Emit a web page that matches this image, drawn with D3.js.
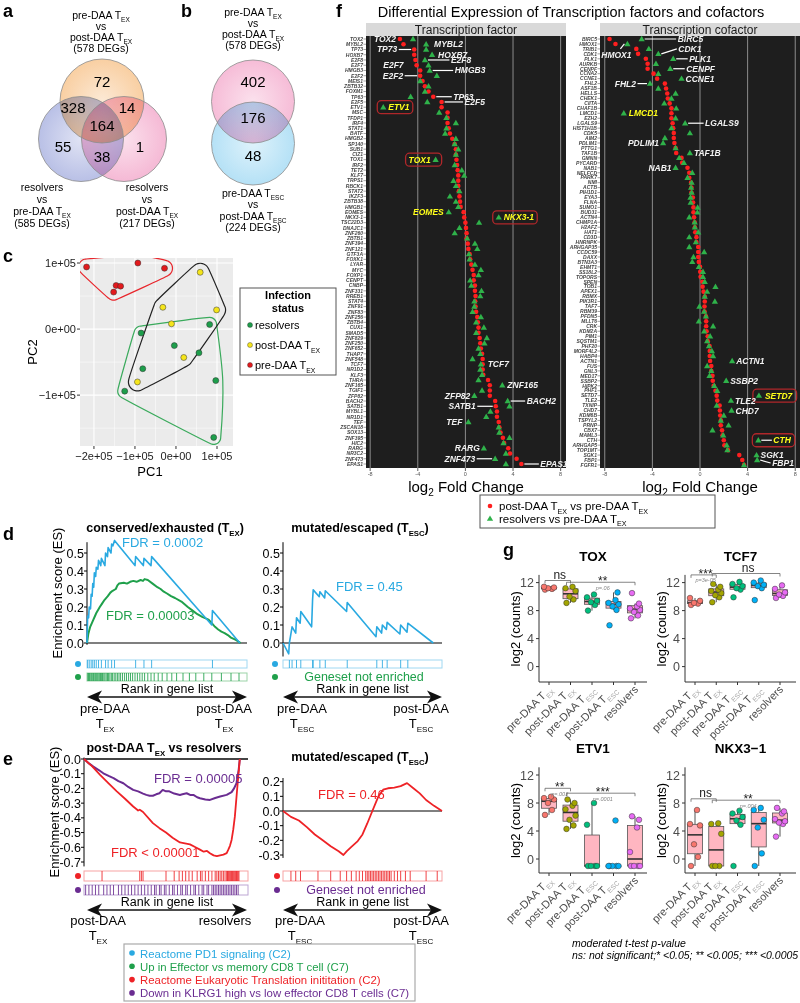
<!DOCTYPE html>
<html><head><meta charset="utf-8">
<script src="https://cdn.jsdelivr.net/npm/d3@7/dist/d3.min.js"></script>
<style>html,body{margin:0;padding:0;background:#fff;}svg{display:block;font-family:Arial,"Liberation Sans",Helvetica,sans-serif;}</style>
</head><body>
<svg id="fig" width="800" height="1003" viewBox="0 0 800 1003"></svg>
<script>
// ================= DATA =================
const vennATop = ["pre-DAA T_{EX}", "vs", "post-DAA T_{EX}", "(578 DEGs)"];
const vennALeft = ["resolvers", "vs", "pre-DAA T_{EX}", "(585 DEGs)"];
const vennARight = ["resolvers", "vs", "post-DAA T_{EX}", "(217 DEGs)"];
const vennACounts = [72, 328, 14, 164, 55, 1, 38];
const vennBTop = ["pre-DAA T_{EX}", "vs", "post-DAA T_{EX}", "(578 DEGs)"];
const vennBBottom = ["pre-DAA T_{ESC}", "vs", "post-DAA T_{ESC}", "(224 DEGs)"];
const vennBCounts = [402, 176, 48];

const pcaStatus = ["resolvers", "post-DAA T_{EX}", "pre-DAA T_{EX}"];
const pcaResX = [-85000, 82000, -4000, 56000, -81000, -125000, 97000, 92000];
const pcaResY = [-6000, 7000, -25000, -36000, -60000, -94000, -78000, -164000];
const pcaPostX = [59000, -32000, 99000, -11000, 19000, -94000];
const pcaPostY = [86000, 33000, 29000, 8000, -43000, -80000];
const pcaPreX = [-218000, -93000, -28000, -152000, -146000, -135000];
const pcaPreY = [94000, 100000, 92000, 56000, 66000, 65000];
const pcaXTicks = [-200000, -100000, 0, 100000];
const pcaXTickLabels = ["\u22122e+05", "\u22121e+05", "0e+00", "1e+05"];
const pcaYTicks = [-100000, 0, 100000];
const pcaYTickLabels = ["\u22121e+05", "0e+00", "1e+05"];

const pd1EsD = [[0,0],[0.004,0.15],[0.01,0.14],[0.014,0.2],[0.022,0.19],[0.026,0.27],[0.032,0.26],[0.036,0.33],[0.042,0.31],[0.046,0.39],[0.054,0.37],[0.058,0.42],[0.068,0.41],[0.072,0.46],[0.086,0.43],[0.09,0.47],[0.112,0.43],[0.116,0.5],[0.128,0.48],[0.132,0.53],[0.15,0.5],[0.154,0.55],[0.162,0.54],[0.172,0.57],[0.30,0.43],[0.304,0.48],[0.352,0.43],[0.356,0.47],[0.40,0.43],[0.404,0.48],[0.78,0.1],[0.784,0.18],[0.955,0]];
const effEsD = [[0,0],[0.008,0.05],[0.02,0.09],[0.04,0.13],[0.05,0.15],[0.06,0.17],[0.08,0.2],[0.095,0.22],[0.11,0.24],[0.13,0.26],[0.146,0.28],[0.16,0.29],[0.18,0.3],[0.19,0.32],[0.2,0.33],[0.23,0.335],[0.25,0.33],[0.27,0.34],[0.29,0.345],[0.31,0.34],[0.335,0.35],[0.35,0.345],[0.36,0.355],[0.38,0.35],[0.41,0.33],[0.44,0.31],[0.46,0.3],[0.48,0.285],[0.5,0.275],[0.525,0.26],[0.55,0.25],[0.59,0.23],[0.61,0.215],[0.63,0.2],[0.66,0.18],[0.69,0.16],[0.72,0.145],[0.76,0.13],[0.78,0.11],[0.8,0.09],[0.82,0.075],[0.84,0.063],[0.86,0.055],[0.88,0.044],[0.9,0.03],[0.93,0.017],[0.96,0]];
const pd1EsD2 = [[0,0],[0.036,-0.06],[0.04,0],[0.057,0.09],[0.08,0.055],[0.085,0.14],[0.108,0.11],[0.112,0.175],[0.18,0.09],[0.186,0.24],[0.19,0.295],[0.228,0.257],[0.232,0.285],[0.262,0.25],[0.266,0.29],[0.40,0.175],[0.404,0.225],[0.585,0.035],[0.59,0.09],[0.62,0.055],[0.625,0.1],[0.65,0.075],[0.655,0.115],[0.735,0.05],[0.74,0.1],[0.78,0.06],[0.785,0.11],[0.945,0]];
const translEsE = [[0,0],[0.05,-0.05],[0.098,-0.108],[0.15,-0.165],[0.2,-0.22],[0.25,-0.27],[0.3,-0.323],[0.33,-0.35],[0.34,-0.345],[0.36,-0.36],[0.42,-0.436],[0.46,-0.47],[0.5,-0.5],[0.54,-0.535],[0.585,-0.567],[0.6,-0.57],[0.646,-0.58],[0.68,-0.6],[0.707,-0.616],[0.73,-0.63],[0.75,-0.625],[0.768,-0.64],[0.79,-0.655],[0.81,-0.66],[0.83,-0.655],[0.85,-0.65],[0.87,-0.64],[0.88,-0.616],[0.89,-0.59],[0.9,-0.55],[0.91,-0.48],[0.92,-0.39],[0.935,-0.19],[0.95,0]];
const klrgEsE = [[0,0],[0.03,-0.03],[0.057,-0.052],[0.09,-0.075],[0.118,-0.097],[0.15,-0.115],[0.18,-0.13],[0.21,-0.15],[0.24,-0.165],[0.27,-0.19],[0.3,-0.21],[0.33,-0.22],[0.36,-0.235],[0.38,-0.244],[0.4,-0.25],[0.42,-0.25],[0.44,-0.24],[0.46,-0.233],[0.48,-0.21],[0.5,-0.22],[0.52,-0.22],[0.55,-0.235],[0.585,-0.244],[0.6,-0.24],[0.626,-0.233],[0.65,-0.245],[0.667,-0.244],[0.69,-0.26],[0.707,-0.267],[0.74,-0.275],[0.768,-0.278],[0.8,-0.265],[0.83,-0.255],[0.87,-0.244],[0.9,-0.225],[0.915,-0.2],[0.93,-0.165],[0.943,-0.075],[0.95,0]];
const translEsE2 = [[0,0],[0.05,-0.04],[0.1,-0.065],[0.15,-0.11],[0.2,-0.16],[0.25,-0.2],[0.3,-0.24],[0.35,-0.275],[0.38,-0.3],[0.4,-0.275],[0.43,-0.245],[0.47,-0.205],[0.5,-0.16],[0.53,-0.085],[0.56,-0.005],[0.6,0.1],[0.63,0.145],[0.66,0.155],[0.7,0.16],[0.74,0.17],[0.78,0.19],[0.82,0.155],[0.86,0.12],[0.9,0.075],[0.95,0.035],[1.0,0]];
const pd1HitsD = [0.004,0.014,0.026,0.036,0.046,0.058,0.072,0.09,0.116,0.132,0.154,0.172,0.304,0.356,0.404,0.784];
const effHitsD = [0.005,0.01,0.015,0.02,0.027,0.033,0.04,0.045,0.052,0.058,0.064,0.07,0.077,0.084,0.09,0.097,0.105,0.112,0.12,0.128,0.135,0.143,0.152,0.16,0.17,0.18,0.19,0.2,0.21,0.222,0.235,0.247,0.26,0.272,0.285,0.3,0.315,0.33,0.345,0.36,0.38,0.4,0.42,0.445,0.47,0.5,0.53,0.56,0.6,0.64,0.68,0.73,0.78,0.84,0.9,0.95];
const pd1HitsD2 = [0.04,0.057,0.085,0.112,0.186,0.19,0.232,0.266,0.404,0.59,0.625,0.655,0.74,0.785];
const translHitsE = [0.11,0.34,0.35,0.36,0.5,0.55,0.58,0.6,0.62,0.64,0.66,0.69,0.71,0.72,0.74,0.76,0.78,0.8,0.81,0.82,0.83,0.84,0.85,0.86,0.87,0.875,0.88,0.885,0.89,0.895,0.9,0.905,0.91,0.915,0.92,0.925,0.93,0.935,0.94,0.945];
const klrgHitsE = [0.01,0.03,0.05,0.07,0.09,0.12,0.14,0.16,0.18,0.21,0.23,0.25,0.27,0.29,0.31,0.33,0.35,0.37,0.39,0.41,0.43,0.44,0.46,0.47,0.49,0.5,0.52,0.54,0.55,0.57,0.59,0.6,0.62,0.63,0.65,0.67,0.68,0.7,0.72,0.73,0.75,0.76,0.78,0.79,0.8,0.81,0.82,0.83,0.84,0.85,0.86,0.87,0.88,0.89,0.9,0.91,0.92,0.93,0.94];
const translHitsE2 = [0.05,0.08,0.11,0.22,0.3,0.36,0.4,0.43,0.46,0.48,0.5,0.52,0.53,0.54,0.55,0.56,0.57,0.58,0.59,0.6,0.61,0.62,0.63,0.64,0.65,0.66,0.67,0.68,0.7,0.72,0.74,0.77,0.8,0.9,0.97];
const esTicksD = [0, 0.1, 0.2, 0.3, 0.4, 0.5];
const esTicksE = [0, -0.1, -0.2, -0.3, -0.4, -0.5, -0.6, -0.7];
const esTicksE2 = [0.2, 0.1, 0, -0.1, -0.2, -0.3];
const genesetNames = ["Reactome PD1 signaling (C2)", "Up in Effector vs memory CD8 T cell (C7)", "Reactome Eukaryotic Translation inititation (C2)", "Down in KLRG1 high vs low effector CD8 T cells (C7)"];

const tfGenes = ["TOX2","MYBL2","TP73","HOXB7","E2F8","E2F7","HMGB3","E2F2","MEIS1","ZBTB32","FOXM1","TP63","E2F5","ETV1","MSC","TFDP1","IRF4","STAT1","BATF","HMGB2","SP140","SUB1","CIZ1","TOX1","IRF2","TET2","KLF7","TRPS1","RBCK1","STAT2","IKZF3","ZBTB38","HMGB1","EOMES","NKX3-1","TSC22D3","DNAJC1","ZNF260","ZBTB1","ZNF394","ZNF121","GTF3A","FOXK1","LYAR","MYC","FOXP1","CENPT","CNBP","ZNF331","RREB1","STAT4","ZNF91","ZNF83","ZNF256","ZBTB4","CUX1","SMAD5","ZNF829","ZNF250","ZNF652","THAP7","ZNF548","TCF7","NR1D2","KLF3","THRA","ZNF165","TGIF1","ZFP82","BACH2","SATB1","MYBL1","NR1D1","TEF","ZSCAN18","SOX13","ZNF395","HIC2","RARG","NR3C2","ZNF473","EPAS1"];
const tfPost = [-5.5,-5.2,-4.3,-4.3,-4.2,-4.1,-3.8,-3.8,-3.6,-3.4,-3.1,-2.7,-2.0,-2.0,-1.5,-1.5,-1.5,-1.4,-1.3,-1.1,-0.9,-0.8,-0.8,-0.75,-0.7,-0.65,-0.6,-0.6,-0.6,-0.55,-0.5,-0.45,-0.4,-0.15,-0.1,0,0.05,0.1,0.1,0.2,0.25,0.35,0.4,0.5,0.6,0.7,0.7,0.8,0.8,0.85,0.82,0.85,0.9,1.0,1.05,1.1,1.1,1.2,1.25,1.3,1.4,1.45,1.45,1.45,1.5,1.9,2.05,2.05,2.05,2.5,2.55,2.65,2.65,2.8,2.85,2.95,3.15,3.25,3.6,3.75,4.3,4.7];
const tfRes = [-4.4,-3.3,-3.3,-2.8,-3.4,-3.1,-3.0,-2.4,-3.8,-3.1,-3.4,-4.6,-3.2,-6.9,-2.2,-1.6,-0.8,-1.6,-1.7,-0.8,-0.9,-0.6,-0.8,-2.5,-0.9,-0.3,-0.1,-1.0,-0.8,-0.5,-1.3,-0.8,-0.6,-1.4,2.8,1.15,-0.5,-0.9,0.15,0.8,1.0,0.3,0.35,0.8,1.3,1.1,0.4,0.5,1.35,1.25,0.75,0.75,0.6,1.3,0.9,1.55,0.9,1.8,1.6,1.1,1.25,0.6,1.3,1.25,1.4,1.1,3.1,1.4,0.75,3.55,3.7,2.1,1.75,0.25,2.8,2.85,3.7,3.2,1.55,3.4,2.5,3.4];
const cofGenes = ["BIRC5","HMOX1","TRIB1","CDK1","PLK1","AURKB","CENPF","CCNA2","CCNE1","FHL2","ASF1B","HELLS","CHEK1","CIITA","CHAF1B","LMCD1","EZH2","LGALS9","HIST1H1B","CDK5","AIM2","PDLIM1","PTTG1","TAF1B","GMNN","PYCARD","NAB1","NELFCD","PARK7","NMI","ACTB","PIH1D1","EYA3","FLNA","SUMO1","BUD31","ACTN4","CHMP1A","H2AFZ","HAT1","CD3D","HNRNPK","ARHGAP35","CCDC59","DAXX","BTN3A3","EHMT1","SS18L2","TOPORS","SPEN","TOB1","APEX1","RBMX","PIK3R1","TAF7","RBM39","PFDN5","MLLT6","CRK","KDM2A","PIM1","SQSTM1","PHF20","MORF4L2","HABP4","ACTN1","FUS","GNL3","MED17","SSBP2","HIPK2","PHF1","SETD7","TLE2","TXNIP","CHD7","KDM6B","TSPYL2","PRNP","CBX7","MAML3","CTH","ARHGAP5","TOP1MT","SGK1","FBP1","FGFR1"];
const cofPost = [-7.6,-7.1,-5.35,-5.2,-4.55,-4.4,-4.4,-3.9,-3.6,-2.95,-2.85,-2.75,-2.7,-2.55,-2.4,-2.4,-2.4,-2.3,-2.25,-2.2,-2.2,-2.15,-2.05,-2.0,-1.55,-1.5,-1.05,-0.9,-0.9,-0.75,-0.72,-0.72,-0.6,-0.58,-0.55,-0.55,-0.5,-0.45,-0.43,-0.4,-0.3,-0.3,-0.15,-0.15,-0.15,-0.1,0,0.02,0.05,0.2,0.22,0.3,0.4,0.4,0.38,0.38,0.5,0.52,0.52,0.55,0.65,0.65,0.8,0.82,0.82,0.85,0.95,0.95,1.05,1.07,1.15,1.3,1.4,1.45,1.65,1.67,1.7,1.75,1.75,1.85,1.9,2.0,2.05,2.35,3.3,3.55,3.7];
const cofRes = [-4.9,-6.1,-4.3,-3.5,-2.25,-3.7,-2.5,-3.5,-1.55,-4.2,-3.5,-2.05,-2.4,-3.0,-2.0,-6.4,-2.05,-1.25,-2.4,-0.85,-2.95,-3.1,-2.05,-0.85,-1.75,-1.35,-2.05,-0.65,-1.05,-0.7,-0.75,-0.7,-0.8,-0.78,-0.2,-0.22,-0.9,-0.45,-0.43,-0.15,-0.9,-0.35,-0.9,0.35,-0.55,-0.65,-0.1,0.25,0.25,0.4,1.3,0.6,0.4,1.25,-0.05,0.35,0.5,-0.1,1.1,0.35,0.85,0.6,0.75,1.0,1.1,2.7,0.6,0.95,0.8,2.2,1.2,1.45,4.95,2.6,1.4,2.65,2.0,1.75,2.4,1.05,1.95,4.9,2.25,2.3,4.75,4.8,3.7];
const fcTicks = [-8, -4, 0, 4, 8];
const fcSeries = ["post-DAA T_{EX} vs pre-DAA T_{EX}", "resolvers vs pre-DAA T_{EX}"];

const gCats = ["pre-DAA T_{EX}", "post-DAA T_{EX}", "pre-DAA T_{ESC}", "post-DAA T_{ESC}", "resolvers"];
const toxCounts = [[11.0,11.1,11.2,11.3,11.4],[9.1,9.6,10.0,10.8,11.2,11.4],[8.0,8.8,9.2,9.4,9.9,10.3],[5.9,8.1,8.6,8.9,9.1,9.5,10.6],[6.9,7.3,7.8,8.1,8.3,8.6,9.0,10.5]];
const tcf7Counts = [[8.8,9.0,9.1,9.4,9.8],[9.2,9.9,10.2,10.5,10.8,11.0,11.4,11.8],[9.9,11.0,11.2,11.5,11.8,12.1],[9.5,11.2,11.5,11.7,12.0,12.3],[9.8,10.1,10.3,10.6,11.1,11.6]];
const etv1Counts = [[6.3,7.0,8.0,8.5,8.7,8.9],[4.3,4.8,5.6,6.2,7.1,7.6,8.0,8.5],[-1,-1,-1,-1,4.9,8.0],[-1,-1,-1,-1,-1,5.5],[-1,-1,-1,-1,1.0,4.5,5.6,6.1]];
const nkx31Counts = [[-1,0.3,2.1,4.8,5.0,7.0],[-1,-1,-1,3.6,5.0,5.1],[-1,4.9,5.5,6.0,6.5,6.9],[-1,0.8,4.5,5.6,7.0,7.3],[3.2,5.0,5.2,5.4,5.7,6.5,6.8,7.3]];
const countTicks = [0, 4, 8, 12];
const toxSig = [{a:0,b:1,y:12.3,lab:"ns"},{a:1,b:4,y:12.05,lab:"**",p:"p=.06"}];
const tcf7Sig = [{a:0,b:1,y:13.1,lab:"***",p:"p=3e-05"},{a:1,b:4,y:13.3,lab:"ns"}];
const etv1Sig = [{a:0,b:1,y:10.1,lab:"**",p:"p=.003"},{a:1,b:4,y:9.4,lab:"***",p:"p=.0001"}];
const nkx31Sig = [{a:0,b:1,y:8.6,lab:"ns"},{a:1,b:4,y:8.4,lab:"**",p:"p=.004"}];

// ================= HELPERS =================
const svg = d3.select("#fig");
const defs = svg.append("defs");
function rich(g, x, y, str, o = {}) {
  const size = o.size || 11;
  const t = g.append("text").attr("x", x).attr("y", y).attr("font-size", size)
    .attr("text-anchor", o.anchor || "start").attr("fill", o.fill || "#000");
  if (o.weight) t.attr("font-weight", o.weight);
  if (o.style) t.attr("font-style", o.style);
  if (o.rotate != null) t.attr("transform", `rotate(${o.rotate},${x},${y})`);
  const parts = str.split(/(_\{[^}]*\})/).filter(s => s.length);
  let down = 0;
  parts.forEach(p => {
    if (p.startsWith("_{")) {
      const s = t.append("tspan").text(p.slice(2, -1)).attr("font-size", size * 0.62).attr("dy", size * 0.32 - down);
      if (o.subFill) s.attr("fill", o.subFill);
      down = size * 0.32;
    } else {
      const s = t.append("tspan").text(p);
      if (down) { s.attr("dy", -down); down = 0; }
    }
  });
  return t;
}
function panelLetter(l, x, y) {
  svg.append("text").attr("x", x).attr("y", y).attr("font-size", 18).attr("font-weight", "bold").text(l);
}
function radial(id, c) {
  const gr = defs.append("radialGradient").attr("id", id);
  gr.append("stop").attr("offset", "0%").attr("stop-color", d3.interpolateRgb(c, "#fff")(0.55));
  gr.append("stop").attr("offset", "100%").attr("stop-color", c);
}

// ================= PANEL a / b =================
panelLetter("a", 3, 17);
panelLetter("b", 181, 17);
{
  const g = svg.append("g");
  radial("gOr", "#f9cfa2"); radial("gBl", "#b9c0e6"); radial("gPk", "#f5b9d5");
  const circles = [{cx:81,cy:139,r:42.5,f:"gBl"},{cx:124,cy:139,r:42.5,f:"gPk"},{cx:102,cy:101,r:42,f:"gOr"}];
  circles.forEach(c => g.append("circle").attr("cx", c.cx).attr("cy", c.cy).attr("r", c.r)
    .attr("fill", `url(#${c.f})`).style("mix-blend-mode", "multiply"));
  circles.forEach(c => g.append("circle").attr("cx", c.cx).attr("cy", c.cy).attr("r", c.r)
    .attr("fill", "none").attr("stroke", "#8c8c8c").attr("stroke-width", 0.8));
  const spots = [[102,87],[73,113],[127,113],[102,131],[63,152],[140,152],[102,162]];
  vennACounts.forEach((v, i) => g.append("text").attr("x", spots[i][0]).attr("y", spots[i][1])
    .attr("text-anchor", "middle").attr("font-size", 15).text(v));
  vennATop.forEach((s, i) => rich(g, 101, 19 + i * 11, s, {anchor: "middle", size: 10.5}));
  vennALeft.forEach((s, i) => rich(g, 42, 191 + i * 12, s, {anchor: "middle", size: 10.5}));
  vennARight.forEach((s, i) => rich(g, 147, 191 + i * 12, s, {anchor: "middle", size: 10.5}));

  const gb = svg.append("g");
  radial("gPk2", "#f6bcd7"); radial("gLb", "#b5e1f6");
  const cb = [{cx:253,cy:101.5,r:41.5,f:"gPk2"},{cx:253,cy:143.5,r:41.5,f:"gLb"}];
  cb.forEach(c => gb.append("circle").attr("cx", c.cx).attr("cy", c.cy).attr("r", c.r)
    .attr("fill", `url(#${c.f})`).style("mix-blend-mode", "multiply"));
  cb.forEach(c => gb.append("circle").attr("cx", c.cx).attr("cy", c.cy).attr("r", c.r)
    .attr("fill", "none").attr("stroke", "#8c8c8c").attr("stroke-width", 0.8));
  const spotsB = [[253,87],[253,123],[253,161]];
  vennBCounts.forEach((v, i) => gb.append("text").attr("x", spotsB[i][0]).attr("y", spotsB[i][1])
    .attr("text-anchor", "middle").attr("font-size", 15).text(v));
  vennBTop.forEach((s, i) => rich(gb, 253, 16 + i * 11, s, {anchor: "middle", size: 10.5}));
  vennBBottom.forEach((s, i) => rich(gb, 253, 197 + i * 11.3, s, {anchor: "middle", size: 10.5}));
}

// ================= PANEL c =================
panelLetter("c", 3, 262);
{
  const g = svg.append("g");
  const x = d3.scaleLinear().domain([-2.34e5, 1.39e5]).range([80, 233]);
  const y = d3.scaleLinear().domain([-1.77e5, 1.076e5]).range([446, 258]);
  g.append("rect").attr("x", 80).attr("y", 258).attr("width", 153).attr("height", 188).attr("fill", "#ebebeb");
  const minorX = [-2.5e5, -1.5e5, -0.5e5, 0.5e5].filter(v => v > x.domain()[0]);
  const minorY = [-1.5e5, -0.5e5, 0.5e5];
  minorX.forEach(v => g.append("line").attr("x1", x(v)).attr("x2", x(v)).attr("y1", 258).attr("y2", 446).attr("stroke", "#fff").attr("stroke-width", 0.5));
  minorY.forEach(v => g.append("line").attr("y1", y(v)).attr("y2", y(v)).attr("x1", 80).attr("x2", 233).attr("stroke", "#fff").attr("stroke-width", 0.5));
  pcaXTicks.forEach((v, i) => {
    g.append("line").attr("x1", x(v)).attr("x2", x(v)).attr("y1", 258).attr("y2", 446).attr("stroke", "#fff").attr("stroke-width", 1.1);
    g.append("line").attr("x1", x(v)).attr("x2", x(v)).attr("y1", 446).attr("y2", 449).attr("stroke", "#333");
    g.append("text").attr("x", x(v)).attr("y", 460).attr("text-anchor", "middle").attr("font-size", 11).attr("fill", "#222").text(pcaXTickLabels[i]);
  });
  pcaYTicks.forEach((v, i) => {
    g.append("line").attr("y1", y(v)).attr("y2", y(v)).attr("x1", 80).attr("x2", 233).attr("stroke", "#fff").attr("stroke-width", 1.1);
    g.append("line").attr("y1", y(v)).attr("y2", y(v)).attr("x1", 77).attr("x2", 80).attr("stroke", "#333");
    g.append("text").attr("x", 76).attr("y", y(v) + 4).attr("text-anchor", "end").attr("font-size", 11).attr("fill", "#222").text(pcaYTickLabels[i]);
  });
  g.append("text").attr("x", 150).attr("y", 476).attr("text-anchor", "middle").attr("font-size", 13).text("PC1");
  g.append("text").attr("transform", "translate(37,352) rotate(-90)").attr("text-anchor", "middle").attr("font-size", 13).text("PC2");
  defs.append("clipPath").attr("id", "pcaClip").append("rect").attr("x", 80).attr("y", 258).attr("width", 153).attr("height", 188);
  const groups = [
    {xs: pcaResX, ys: pcaResY, fill: "#1d9e4b", hull: "#3aaa5c", pad: 7},
    {xs: pcaPostX, ys: pcaPostY, fill: "#f5e51b", hull: "#222", pad: 9},
    {xs: pcaPreX, ys: pcaPreY, fill: "#e3191c", hull: "#e8262c", pad: 8}
  ];
  const hg = g.append("g").attr("clip-path", "url(#pcaClip)");
  groups.forEach(gr => {
    const ring = [];
    gr.xs.forEach((v, i) => { for (let k = 0; k < 24; k++) { const a = k / 24 * 2 * Math.PI; ring.push([x(v) + gr.pad * Math.cos(a), y(gr.ys[i]) + gr.pad * Math.sin(a)]); } });
    const hull = d3.polygonHull(ring);
    hg.append("path").attr("d", d3.line().curve(d3.curveCatmullRomClosed)(hull)).attr("fill", "none").attr("stroke", gr.hull).attr("stroke-width", 1.2);
  });
  groups.forEach(gr => gr.xs.forEach((v, i) => g.append("circle").attr("cx", x(v)).attr("cy", y(gr.ys[i])).attr("r", 3)
    .attr("fill", gr.fill).attr("stroke", "#333").attr("stroke-width", 0.5)));
  g.append("rect").attr("x", 240).attr("y", 288).attr("width", 96).attr("height", 87).attr("fill", "#fff").attr("stroke", "#555").attr("stroke-width", 1);
  g.append("text").attr("x", 288).attr("y", 299).attr("text-anchor", "middle").attr("font-size", 11).attr("font-weight", "bold").text("Infection");
  g.append("text").attr("x", 288).attr("y", 312).attr("text-anchor", "middle").attr("font-size", 11).attr("font-weight", "bold").text("status");
  pcaStatus.forEach((s, i) => {
    g.append("circle").attr("cx", 250).attr("cy", 325 + i * 20).attr("r", 2.5).attr("fill", groups[i].fill).attr("stroke", "#333").attr("stroke-width", 0.4);
    rich(g, 255, 329 + i * 20, s, {size: 11});
  });
}

// ================= PANELS d / e =================
const cBlue = "#29a9e1", cGreen = "#1fa04b", cRed = "#ee2226", cPurple = "#6a2c91";
const lBlue = "#9fd8f2", lGreen = "#9cd3a8", lRed = "#f7a3a4", lPurple = "#bda6d3";
function esLine(g, x, y, data, color, w) {
  g.append("path").attr("d", d3.line().x(d => x(d[0])).y(d => y(d[1]))(data)).attr("fill", "none").attr("stroke", color).attr("stroke-width", w).attr("stroke-linejoin", "round");
}
function yAxisES(g, x0, y, ticks, top, bottom) {
  g.append("line").attr("x1", x0).attr("x2", x0).attr("y1", y(top)).attr("y2", y(bottom)).attr("stroke", "#000").attr("stroke-width", 1);
  ticks.forEach(t => {
    g.append("line").attr("x1", x0 - 3).attr("x2", x0).attr("y1", y(t)).attr("y2", y(t)).attr("stroke", "#000");
    g.append("text").attr("x", x0 - 3).attr("y", y(t) + 4.5).attr("text-anchor", "end").attr("font-size", 12.5).text(t.toFixed(1));
  });
}
function barcode(g, x, y0, h, hits, color, light) {
  const [a, b] = x.range();
  g.append("rect").attr("x", a).attr("y", y0).attr("width", b - a).attr("height", h).attr("fill", "none").attr("stroke", light).attr("stroke-width", 1);
  hits.forEach(d => g.append("line").attr("x1", x(d)).attr("x2", x(d)).attr("y1", y0).attr("y2", y0 + h).attr("stroke", color).attr("stroke-width", 1).attr("opacity", 0.85));
}
function dblArrow(g, x1, x2, y) {
  g.append("line").attr("x1", x1 + 8).attr("x2", x2 - 8).attr("y1", y).attr("y2", y).attr("stroke", "#111").attr("stroke-width", 1.6);
  g.append("path").attr("d", `M${x1},${y}L${x1 + 15},${y - 6.5}L${x1 + 11},${y}L${x1 + 15},${y + 6.5}Z`).attr("fill", "#111");
  g.append("path").attr("d", `M${x2},${y}L${x2 - 15},${y - 6.5}L${x2 - 11},${y}L${x2 - 15},${y + 6.5}Z`).attr("fill", "#111");
}
function rankBlock(g, x1, x2, yText, yArrow, yLab, left, right) {
  g.append("text").attr("x", (x1 + x2) / 2).attr("y", yText).attr("text-anchor", "middle").attr("font-size", 12.5).text("Rank in gene list");
  dblArrow(g, x1, x2, yArrow);
  left.forEach((s, i) => rich(g, left.cx, yLab + i * 15, s, {anchor: "middle", size: 13}));
  right.forEach((s, i) => rich(g, right.cx, yLab + i * 15, s, {anchor: "middle", size: 13}));
}
panelLetter("d", 3, 540);
{
  const g = svg.append("g");
  const x = d3.scaleLinear().domain([0, 1]).range([87, 247]);
  const y = d3.scaleLinear().domain([0, 0.5]).range([643, 553]);
  rich(g, 165, 532, "conserved/exhausted (T_{EX})", {anchor: "middle", size: 12.5, weight: "bold"});
  yAxisES(g, 87, y, esTicksD, 0.56, -0.01);
  g.append("line").attr("x1", 87).attr("x2", 247).attr("y1", y(0)).attr("y2", y(0)).attr("stroke", "#000").attr("stroke-width", 1.2);
  esLine(g, x, y, effEsD, cGreen, 2);
  esLine(g, x, y, pd1EsD, cBlue, 1.6);
  g.append("text").attr("x", 122).attr("y", 547).attr("font-size", 13).attr("fill", cBlue).text("FDR = 0.0002");
  g.append("text").attr("x", 106).attr("y", 620).attr("font-size", 13).attr("fill", cGreen).text("FDR = 0.00003");
  g.append("text").attr("transform", "translate(62,593) rotate(-90)").attr("text-anchor", "middle").attr("font-size", 13).text("Enrichment score (ES)");
  g.append("circle").attr("cx", 78).attr("cy", 664).attr("r", 3).attr("fill", cBlue);
  g.append("circle").attr("cx", 78).attr("cy", 677).attr("r", 3).attr("fill", cGreen);
  barcode(g, x, 660, 8, pd1HitsD, cBlue, lBlue);
  barcode(g, x, 673, 8, effHitsD, cGreen, lGreen);
  const L = ["pre-DAA", "T_{EX}"]; L.cx = 105;
  const R = ["post-DAA", "T_{EX}"]; R.cx = 224;
  rankBlock(g, 87, 247, 693, 697, 713, L, R);

  const x2 = d3.scaleLinear().domain([0, 1]).range([283, 442]);
  rich(g, 360, 532, "mutated/escaped (T_{ESC})", {anchor: "middle", size: 12.5, weight: "bold"});
  yAxisES(g, 283, y, esTicksD, 0.56, -0.075);
  g.append("line").attr("x1", 283).attr("x2", 442).attr("y1", y(0)).attr("y2", y(0)).attr("stroke", "#000").attr("stroke-width", 1.2);
  esLine(g, x2, y, pd1EsD2, cBlue, 1.6);
  g.append("text").attr("x", 336).attr("y", 591).attr("font-size", 13).attr("fill", cBlue).text("FDR = 0.45");
  g.append("circle").attr("cx", 275).attr("cy", 664).attr("r", 3).attr("fill", cBlue);
  g.append("circle").attr("cx", 275).attr("cy", 677).attr("r", 3).attr("fill", cGreen);
  barcode(g, x2, 660, 8, pd1HitsD2, cBlue, lBlue);
  g.append("text").attr("x", 364).attr("y", 681).attr("text-anchor", "middle").attr("font-size", 12.5).attr("fill", cGreen).text("Geneset not enriched");
  const L2 = ["pre-DAA", "T_{ESC}"]; L2.cx = 302;
  const R2 = ["post-DAA", "T_{ESC}"]; R2.cx = 421;
  rankBlock(g, 283, 442, 693, 697, 713, L2, R2);
}
panelLetter("e", 3, 765);
{
  const g = svg.append("g");
  const x = d3.scaleLinear().domain([0, 1]).range([84, 248]);
  const y = d3.scaleLinear().domain([0, -0.7]).range([759, 862]);
  rich(g, 164, 752, "post-DAA T_{EX} vs resolvers", {anchor: "middle", size: 12.5, weight: "bold"});
  yAxisES(g, 84, y, esTicksE, 0.01, -0.73);
  g.append("line").attr("x1", 84).attr("x2", 248).attr("y1", y(0)).attr("y2", y(0)).attr("stroke", "#444").attr("stroke-width", 2);
  esLine(g, x, y, klrgEsE, cPurple, 2);
  esLine(g, x, y, translEsE, cRed, 1.8);
  g.append("text").attr("x", 154).attr("y", 783).attr("font-size", 13).attr("fill", cPurple).text("FDR = 0.00005");
  g.append("text").attr("x", 111).attr("y", 857).attr("font-size", 13).attr("fill", cRed).text("FDR < 0.00001");
  g.append("text").attr("transform", "translate(59,812) rotate(-90)").attr("text-anchor", "middle").attr("font-size", 13).text("Enrichment score (ES)");
  g.append("circle").attr("cx", 78).attr("cy", 876).attr("r", 3).attr("fill", cRed);
  g.append("circle").attr("cx", 78).attr("cy", 890).attr("r", 3).attr("fill", cPurple);
  barcode(g, x, 871, 10, translHitsE, cRed, lRed);
  barcode(g, x, 885, 10, klrgHitsE, cPurple, lPurple);
  const L = ["post-DAA", "T_{EX}"]; L.cx = 98;
  const R = ["resolvers"]; R.cx = 225;
  rankBlock(g, 87, 247, 906, 910, 925, L, R);

  const x2 = d3.scaleLinear().domain([0, 1]).range([283, 442]);
  const y2 = d3.scaleLinear().domain([0, -0.3]).range([811, 855]);
  rich(g, 360, 761, "mutated/escaped (T_{ESC})", {anchor: "middle", size: 12.5, weight: "bold"});
  yAxisES(g, 283, y2, esTicksE2, 0.225, -0.32);
  g.append("line").attr("x1", 283).attr("x2", 442).attr("y1", y2(0)).attr("y2", y2(0)).attr("stroke", "#000").attr("stroke-width", 1);
  esLine(g, x2, y2, translEsE2, cRed, 1.8);
  g.append("text").attr("x", 318).attr("y", 799).attr("font-size", 13).attr("fill", cRed).text("FDR = 0.46");
  g.append("circle").attr("cx", 277).attr("cy", 876).attr("r", 3).attr("fill", cRed);
  g.append("circle").attr("cx", 277).attr("cy", 890).attr("r", 3).attr("fill", cPurple);
  barcode(g, x2, 871, 10, translHitsE2, cRed, lRed);
  g.append("text").attr("x", 366).attr("y", 894).attr("text-anchor", "middle").attr("font-size", 12.5).attr("fill", cPurple).text("Geneset not enriched");
  const L2 = ["pre-DAA", "T_{ESC}"]; L2.cx = 300;
  const R2 = ["post-DAA", "T_{ESC}"]; R2.cx = 421;
  rankBlock(g, 283, 442, 906, 910, 925, L2, R2);

  g.append("rect").attr("x", 124).attr("y", 944).attr("width", 291).attr("height", 57).attr("fill", "#fff").attr("stroke", "#aaa").attr("stroke-width", 1.2);
  const lc = [cBlue, cGreen, cRed, cPurple];
  genesetNames.forEach((s, i) => {
    g.append("circle").attr("cx", 132).attr("cy", 953 + i * 13.3).attr("r", 2.8).attr("fill", lc[i]);
    g.append("text").attr("x", 140).attr("y", 957.5 + i * 13.3).attr("font-size", 11.4).attr("fill", lc[i]).text(s);
  });
}

// ================= PANEL f =================
panelLetter("f", 336, 17);
svg.append("text").attr("x", 571).attr("y", 17).attr("text-anchor", "middle").attr("font-size", 14.5).text("Differential Expression of Transcription factors and cofactors");
const tfAnno = [
  {gene:"TOX2", on:"post", dx:-4, anchor:"end"},
  {gene:"MYBL2", on:"res", dx:8},
  {gene:"TP73", on:"post", dx:-17, anchor:"end", line:true},
  {gene:"HOXB7", on:"res", dx:6},
  {gene:"E2F8", on:"res", dx:26, line:true},
  {gene:"E2F7", on:"post", dx:-13, anchor:"end"},
  {gene:"HMGB3", on:"res", dx:25, line:true},
  {gene:"E2F2", on:"post", dx:-17, anchor:"end", line:true},
  {gene:"TP63", on:"post", dx:20, line:true},
  {gene:"E2F5", on:"post", dx:23, line:true},
  {gene:"ETV1", on:"res", dx:5, yellow:true, box:true},
  {gene:"TOX1", on:"res", dx:-5, anchor:"end", yellow:true, box:true},
  {gene:"EOMES", on:"res", dx:-5, anchor:"end", yellow:true},
  {gene:"NKX3-1", on:"res", dx:5, yellow:true, box:true},
  {gene:"TCF7", on:"post", dx:5},
  {gene:"ZNF165", on:"res", dx:5},
  {gene:"ZFP82", on:"res", dx:-4, anchor:"end"},
  {gene:"BACH2", on:"res", dx:19, line:true},
  {gene:"SATB1", on:"post", dx:-20, anchor:"end", line:true},
  {gene:"TEF", on:"res", dx:-6, anchor:"end"},
  {gene:"RARG", on:"res", dx:-4, anchor:"end"},
  {gene:"ZNF473", on:"res", dx:-20, anchor:"end", line:true},
  {gene:"EPAS1", on:"post", dx:19, line:true}
];
const cofAnno = [
  {gene:"BIRC5", on:"res", dx:36, line:true},
  {gene:"HMOX1", on:"res", dx:-11, dy:11, anchor:"middle", line:true},
  {gene:"CDK1", on:"res", dx:20, dy:-5, line:true},
  {gene:"PLK1", on:"res", dx:16, line:true},
  {gene:"CENPF", on:"res", dx:16, line:true},
  {gene:"CCNE1", on:"res", dx:4},
  {gene:"FHL2", on:"res", dx:-14, anchor:"end", line:true},
  {gene:"LMCD1", on:"res", dx:5, yellow:true},
  {gene:"LGALS9", on:"res", dx:20, line:true},
  {gene:"PDLIM1", on:"res", dx:-4, anchor:"end"},
  {gene:"TAF1B", on:"res", dx:4},
  {gene:"NAB1", on:"res", dx:-4, anchor:"end"},
  {gene:"ACTN1", on:"res", dx:4},
  {gene:"SSBP2", on:"res", dx:4},
  {gene:"SETD7", on:"res", dx:6, yellow:true, box:true},
  {gene:"TLE2", on:"res", dx:4},
  {gene:"CHD7", on:"res", dx:4},
  {gene:"CTH", on:"res", dx:15, line:true, yellow:true, box:true},
  {gene:"SGK1", on:"res", dx:4},
  {gene:"FBP1", on:"res", dx:15, dy:3, line:true}
];
function dePanel(genes, post, res, xr, y0, y1, title, anno, labelX) {
  const g = svg.append("g");
  const [a, b] = xr.range();
  const yr = d3.scalePoint().domain(genes).range([y0, y1]);
  g.append("rect").attr("x", a).attr("y", 23).attr("width", b - a).attr("height", 13).attr("fill", "#d9d9d9");
  g.append("text").attr("x", (a + b) / 2).attr("y", 33.5).attr("text-anchor", "middle").attr("font-size", 12).attr("fill", "#1a1a1a").text(title);
  g.append("rect").attr("x", a).attr("y", 36).attr("width", b - a).attr("height", 432).attr("fill", "#1e1e1e");
  fcTicks.forEach(t => {
    g.append("line").attr("x1", xr(t)).attr("x2", xr(t)).attr("y1", 36).attr("y2", 468).attr("stroke", "#8c8c8c").attr("stroke-width", 1);
    g.append("line").attr("x1", xr(t)).attr("x2", xr(t)).attr("y1", 468).attr("y2", 471).attr("stroke", "#333").attr("stroke-width", 0.8);
    g.append("text").attr("x", xr(t)).attr("y", 475.5).attr("text-anchor", "middle").attr("font-size", 5.5).attr("fill", "#555").text(t);
  });
  genes.forEach(gn => {
    g.append("text").attr("x", labelX).attr("y", yr(gn) + 1.8).attr("text-anchor", "end").attr("font-size", 5)
      .attr("font-style", "italic").attr("font-weight", "bold").attr("fill", "#444").text(gn);
    g.append("line").attr("x1", a - 2.5).attr("x2", a).attr("y1", yr(gn)).attr("y2", yr(gn)).attr("stroke", "#444").attr("stroke-width", 0.5);
  });
  genes.forEach((gn, i) => g.append("circle").attr("cx", xr(post[i])).attr("cy", yr(gn)).attr("r", 2.3).attr("fill", "#ff1f1f"));
  const tri = d3.symbol().type(d3.symbolTriangle).size(17);
  genes.forEach((gn, i) => g.append("path").attr("d", tri()).attr("transform", `translate(${xr(res[i])},${yr(gn) + 0.4})`).attr("fill", "#2fb24a"));
  anno.forEach(an => {
    const i = genes.indexOf(an.gene);
    const mx = xr(an.on === "post" ? post[i] : res[i]);
    const my = yr(an.gene);
    const tx = mx + an.dx, ty = my + (an.dy || 0);
    const s = Math.sign(an.dx);
    if (an.line) {
      const ex = an.anchor === "middle" ? tx + 4 : tx - s * 1.5;
      const ey = an.anchor === "middle" ? ty - 6 : ty;
      g.append("line").attr("x1", mx + s * 3).attr("y1", my).attr("x2", ex).attr("y2", ey).attr("stroke", "#fff").attr("stroke-width", 1.2);
    }
    const t = g.append("text").attr("x", tx).attr("y", ty + 3).attr("text-anchor", an.anchor || "start")
      .attr("font-size", 8.5).attr("font-style", "italic").attr("font-weight", "bold")
      .attr("fill", an.yellow ? "#ffff1a" : "#f2f2f2").text(an.gene);
    if (an.box) {
      const bb = t.node().getBBox();
      const x0 = Math.min(bb.x, mx - 3) - 3, x1 = Math.max(bb.x + bb.width, mx + 3) + 3;
      g.append("rect").attr("x", x0).attr("y", bb.y - 1.5).attr("width", x1 - x0).attr("height", bb.height + 3)
        .attr("rx", 4).attr("fill", "none").attr("stroke", "#b0272a").attr("stroke-width", 1.3);
    }
  });
  const lt = g.append("text").attr("x", (a + b) / 2).attr("y", 492).attr("text-anchor", "middle").attr("font-size", 15);
  lt.append("tspan").text("log");
  lt.append("tspan").text("2").attr("font-size", 10).attr("dy", 4);
  lt.append("tspan").text(" Fold Change").attr("dy", -4);
}
dePanel(tfGenes, tfPost, tfRes, d3.scaleLinear().domain([-8.35, 8.45]).range([366, 566]), 39, 464, "Transcription factor", tfAnno, 363);
dePanel(cofGenes, cofPost, cofRes, d3.scaleLinear().domain([-8.4, 8.4]).range([600, 800]), 39, 465, "Transcription cofactor", cofAnno, 597);
{
  const g = svg.append("g");
  g.append("rect").attr("x", 480).attr("y", 495).attr("width", 235).attr("height", 33).attr("fill", "#fff").attr("stroke", "#555").attr("stroke-width", 1);
  g.append("circle").attr("cx", 490).attr("cy", 506).attr("r", 2.3).attr("fill", "#ff1f1f");
  g.append("path").attr("d", d3.symbol().type(d3.symbolTriangle).size(17)()).attr("transform", "translate(490,519)").attr("fill", "#2fb24a");
  fcSeries.forEach((s, i) => rich(g, 499, 510 + i * 12.5, s, {size: 11.5}));
}

// ================= PANEL g =================
svg.append("text").attr("x", 503).attr("y", 556).attr("font-size", 18).attr("font-weight", "bold").text("g");
const gColors = ["#F8766D", "#A3A500", "#00BF7D", "#00B0F6", "#E76BF3"];
const jit = [-4, 3, -1, 5, -5, 2, 4, -3];
function boxPanel(gene, counts, sig, ax, xRange, xEnd, yr, title, titleY) {
  const g = svg.append("g");
  const x = d3.scalePoint().domain(gCats).range(xRange);
  const [yb] = yr.range();
  g.append("text").attr("x", (ax + xEnd) / 2).attr("y", titleY).attr("text-anchor", "middle").attr("font-size", 13.5).attr("font-weight", "bold").text(title);
  g.append("line").attr("x1", ax).attr("x2", ax).attr("y1", yb).attr("y2", yr(13.1)).attr("stroke", "#333");
  g.append("line").attr("x1", ax).attr("x2", xEnd).attr("y1", yb).attr("y2", yb).attr("stroke", "#333");
  countTicks.forEach(t => {
    g.append("line").attr("x1", ax - 3).attr("x2", ax).attr("y1", yr(t)).attr("y2", yr(t)).attr("stroke", "#333");
    g.append("text").attr("x", ax - 5).attr("y", yr(t) + 4.5).attr("text-anchor", "end").attr("font-size", 12.5).attr("fill", "#4d4d4d").text(t);
  });
  g.append("text").attr("transform", `translate(${ax - 19},${(yb + yr(13)) / 2}) rotate(-90)`).attr("text-anchor", "middle").attr("font-size", 13).text("log2 (counts)");
  gCats.forEach((c, k) => {
    const cx = x(c);
    g.append("line").attr("x1", cx).attr("x2", cx).attr("y1", yb).attr("y2", yb + 3).attr("stroke", "#333");
    rich(g, cx + 4, yb + 8, c, {anchor: "end", size: 11, fill: "#4d4d4d", subFill: "#aaa", rotate: -45});
    const s = counts[k].slice().sort(d3.ascending);
    const q1 = d3.quantileSorted(s, 0.25), med = d3.quantileSorted(s, 0.5), q3 = d3.quantileSorted(s, 0.75);
    const iqr = q3 - q1;
    const lo = d3.min(s.filter(v => v >= q1 - 1.5 * iqr)), hi = d3.max(s.filter(v => v <= q3 + 1.5 * iqr));
    const bw = 15;
    g.append("line").attr("x1", cx).attr("x2", cx).attr("y1", yr(lo)).attr("y2", yr(q1)).attr("stroke", "#555");
    g.append("line").attr("x1", cx).attr("x2", cx).attr("y1", yr(q3)).attr("y2", yr(hi)).attr("stroke", "#555");
    g.append("rect").attr("x", cx - bw / 2).attr("y", yr(q3)).attr("width", bw).attr("height", Math.max(0.5, yr(q1) - yr(q3)))
      .attr("fill", "#ffb6c1").attr("stroke", "#555").attr("stroke-width", 0.8);
    g.append("line").attr("x1", cx - bw / 2).attr("x2", cx + bw / 2).attr("y1", yr(med)).attr("y2", yr(med)).attr("stroke", "#333").attr("stroke-width", 1.6);
    counts[k].forEach((v, i) => g.append("circle").attr("cx", cx + jit[i % jit.length]).attr("cy", yr(v)).attr("r", 2.8)
      .attr("fill", gColors[k]).attr("stroke", "#333").attr("stroke-width", 0.5));
  });
  sig.forEach(sg => {
    const xa = x(gCats[sg.a]), xb = x(gCats[sg.b]), yy = yr(sg.y);
    g.append("path").attr("d", `M${xa - 4},${yy + 3}V${yy}H${xb}V${yy + 3}`).attr("fill", "none").attr("stroke", "#666").attr("stroke-width", 0.8);
    const star = sg.lab.includes("*");
    g.append("text").attr("x", (xa + xb) / 2).attr("y", star ? yy + 3 : yy - 1.5).attr("text-anchor", "middle").attr("font-size", 12).attr("fill", "#222").text(sg.lab);
    if (sg.p) g.append("text").attr("x", (xa + xb) / 2).attr("y", yy + 7.5).attr("text-anchor", "middle").attr("font-size", 5.5).attr("font-style", "italic").attr("fill", "#888").text(sg.p);
  });
}
const yTop = d3.scaleLinear().domain([-2.2, 13.4]).range([682, 572.8]);
const yBot = d3.scaleLinear().domain([-2, 13.4]).range([873, 765.2]);
boxPanel("TOX", toxCounts, toxSig, 539, [549, 635], 647, yTop, "TOX", 561);
boxPanel("TCF7", tcf7Counts, tcf7Sig, 685, [695, 780], 796, yTop, "TCF7", 561);
boxPanel("ETV1", etv1Counts, etv1Sig, 539, [549, 635], 647, yBot, "ETV1", 753);
boxPanel("NKX3-1", nkx31Counts, nkx31Sig, 685, [695, 780], 796, yBot, "NKX3\u22121", 753);
svg.append("text").attr("x", 572).attr("y", 947).attr("font-size", 10.5).attr("font-style", "italic").text("moderated t-test p-value");
svg.append("text").attr("x", 572).attr("y", 959).attr("font-size", 10.5).attr("font-style", "italic").text("ns: not significant;* <0.05; ** <0.005; *** <0.0005");
</script>
</body></html>
